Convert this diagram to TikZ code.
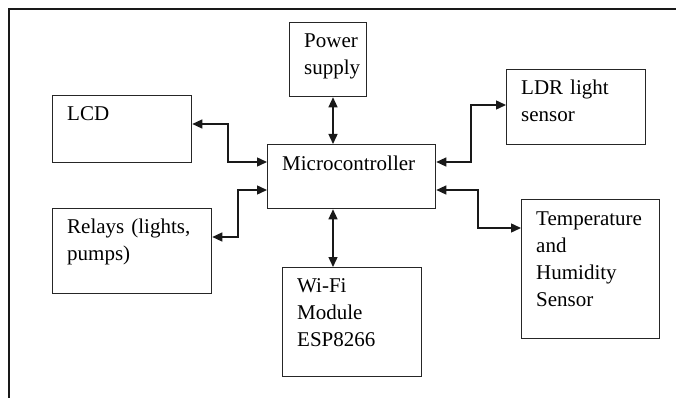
\documentclass[tikz,border=0pt]{standalone}
\usepackage{fontspec}
\setmainfont{Liberation Serif}
\usetikzlibrary{arrows.meta}

\begin{document}
\begin{tikzpicture}[
    x=1pt, y=-1pt,
    every node/.style={font=\fontsize{21}{27}\selectfont},
    block/.style={rectangle, draw=black!85, line width=1.3pt, anchor=north west,
                  inner sep=0pt},
    txt/.style={anchor=base west, align=left, text width=140pt, inner sep=0pt},
    dbl/.style={{Triangle[length=10pt, width=9pt]}-{Triangle[length=10pt, width=9pt]},
                line width=1.4pt, draw=black!90},
    frame/.style={line width=2.5pt, draw=black!90},
]
\useasboundingbox (0,0) rectangle (676,398);

% ---------- Outer frame ----------
\draw[frame] (9,398) -- (9,9) -- (676,9);

% ---------- Blocks ----------
\node[block, minimum width=168pt, minimum height=64pt]  (micro)  at (267,144) {};
\node[block, minimum width=77pt,  minimum height=74pt]  (power)  at (289,22)  {};
\node[block, minimum width=139pt, minimum height=67pt]  (lcd)    at (52,95)   {};
\node[block, minimum width=159pt, minimum height=85pt]  (relays) at (52,208)  {};
\node[block, minimum width=139pt, minimum height=75pt]  (ldr)    at (506,69)  {};
\node[block, minimum width=138pt, minimum height=139pt] (temp)   at (521,199) {};
\node[block, minimum width=139pt, minimum height=109pt] (wifi)   at (282,267) {};

% ---------- Texts ----------
\node[txt] (micro-t)  at ([shift={(15,26)}]micro.north west)  {Microcontroller};
\node[txt] (power-t)  at ([shift={(15,26)}]power.north west)  {Power\\supply};
\node[txt] (lcd-t)    at ([shift={(15,26)}]lcd.north west)    {LCD};
\node[txt] (relays-t) at ([shift={(15,25)}]relays.north west) {Relays (lights,\\pumps)};
\node[txt] (ldr-t)    at ([shift={(15,26)}]ldr.north west)    {LDR light\\sensor};
\node[txt] (temp-t)   at ([shift={(15,26)}]temp.north west)   {Temperature\\and\\Humidity\\Sensor};
\node[txt] (wifi-t)   at ([shift={(15,25)}]wifi.north west)   {Wi-Fi\\Module\\ESP8266};

% ---------- Connectors ----------
\draw[dbl] (power.south -| 333,0) -- (micro.north -| 333,0);
\draw[dbl] (micro.south -| 333,0) -- (wifi.north -| 333,0);

\draw[dbl] (lcd.east |- 0,124)    -| (228,162) -- (micro.west |- 0,162);
\draw[dbl] (relays.east |- 0,237) -| (238,190) -- (micro.west |- 0,190);

\draw[dbl] (micro.east |- 0,162)  -| (471,105) -- (ldr.west |- 0,105);
\draw[dbl] (micro.east |- 0,190)  -| (478,228) -- (temp.west |- 0,228);

\end{tikzpicture}
\end{document}
